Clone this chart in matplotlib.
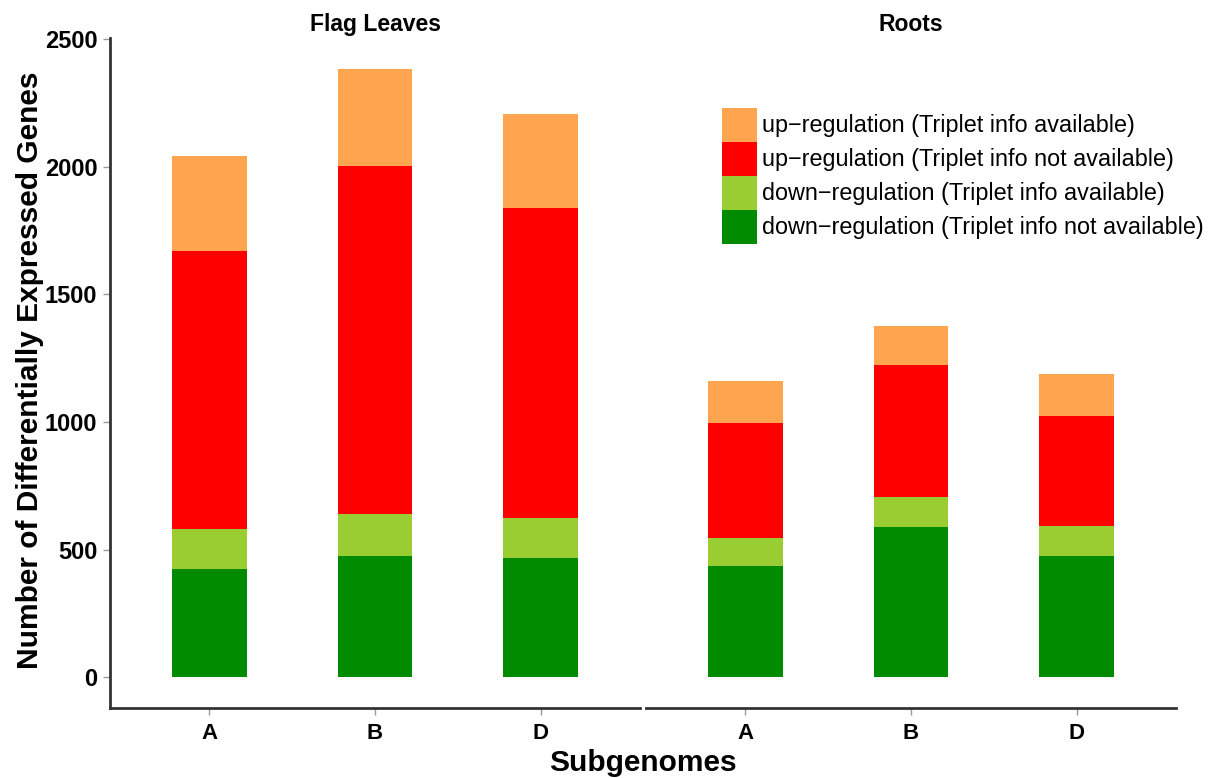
import matplotlib
matplotlib.use("Agg")
import matplotlib.pyplot as plt
from matplotlib.patches import Patch
import numpy as np

plt.rcParams['font.family'] = ['Liberation Sans', 'DejaVu Sans']

subgenomes = ["A", "B", "D"]
tissues = ["Flag Leaves", "Roots"]

# stacked segments, bottom to top
down_not_avail = {"Flag Leaves": [424, 475, 467], "Roots": [436, 589, 475]}
down_avail     = {"Flag Leaves": [157, 165, 157], "Roots": [110, 117, 118]}
up_not_avail   = {"Flag Leaves": [1089, 1363, 1215], "Roots": [450, 518, 431]}
up_avail       = {"Flag Leaves": [372, 380, 368], "Roots": [165, 152, 164]}

series = [
    ("down\u2212regulation (Triplet info not available)", down_not_avail, "#008B00"),
    ("down\u2212regulation (Triplet info available)", down_avail, "#9ACD32"),
    ("up\u2212regulation (Triplet info not available)", up_not_avail, "#FF0000"),
    ("up\u2212regulation (Triplet info available)", up_avail, "#FFA54F"),
]

W, H = 1220, 778
fig = plt.figure(figsize=(W / 100, H / 100), dpi=100)

ax_w = 530 / W
ax_b = 1 - 707.7 / H
ax_h = (707.7 - 38) / H
axes = [fig.add_axes([110 / W, ax_b, ax_w, ax_h]),
        fig.add_axes([646 / W, ax_b, ax_w, ax_h])]

x = np.arange(1, 4)
spine_col = "#333333"
for ax, tissue in zip(axes, tissues):
    bottom = np.zeros(3)
    for label, data, col in series:
        vals = np.array(data[tissue], dtype=float)
        ax.bar(x, vals, width=0.45, bottom=bottom, color=col, label=label, linewidth=0)
        bottom += vals
    ax.set_xlim(0.4, 3.6)
    ax.set_ylim(-119, 2505)
    ax.set_xticks(x)
    ax.set_xticklabels(subgenomes, fontsize=16, fontweight='bold')
    for s in ["top", "right"]:
        ax.spines[s].set_visible(False)
    ax.spines["bottom"].set_color(spine_col)
    ax.spines["bottom"].set_linewidth(2)
    ax.tick_params(axis='x', length=5, width=1, color="#999999", pad=6)
    ax.set_title(tissue, fontsize=16.5, fontweight='bold', pad=5)

axes[0].spines["left"].set_color(spine_col)
axes[0].spines["left"].set_linewidth(2)
axes[0].set_yticks([0, 500, 1000, 1500, 2000, 2500])
axes[0].tick_params(axis='y', length=5, width=1, color="#999999", labelsize=17, pad=4)
for t in axes[0].get_yticklabels():
    t.set_fontweight('bold')

axes[1].spines["left"].set_visible(False)
axes[1].set_yticks([])

fig.text(643 / W, 1 - 763 / H, "Subgenomes", ha='center', va='center',
         fontsize=21.5, fontweight='bold')
fig.text(30 / W, 1 - 370 / H, "Number of Differentially Expressed Genes",
         ha='center', va='center', rotation=90, fontsize=21.5, fontweight='bold')

handles = [Patch(facecolor=col, edgecolor='none', label=label)
           for label, _, col in reversed(series)]
fs = 16.8
fs_pt = fs
# legend handle box: height = fs*(0.65*hh + 0.245)
key_h_pt = 34 * 0.72
key_w_pt = 35 * 0.72
hh = (key_h_pt / fs_pt - 0.245) / 0.65
fig.legend(handles=handles, loc='upper left',
           bbox_to_anchor=(722 / W, 1 - 108 / H), frameon=False,
           fontsize=fs, handlelength=key_w_pt / fs_pt, handleheight=hh,
           labelspacing=0, handletextpad=0.2, borderpad=0, borderaxespad=0)

fig.savefig("out.png", dpi=100)
